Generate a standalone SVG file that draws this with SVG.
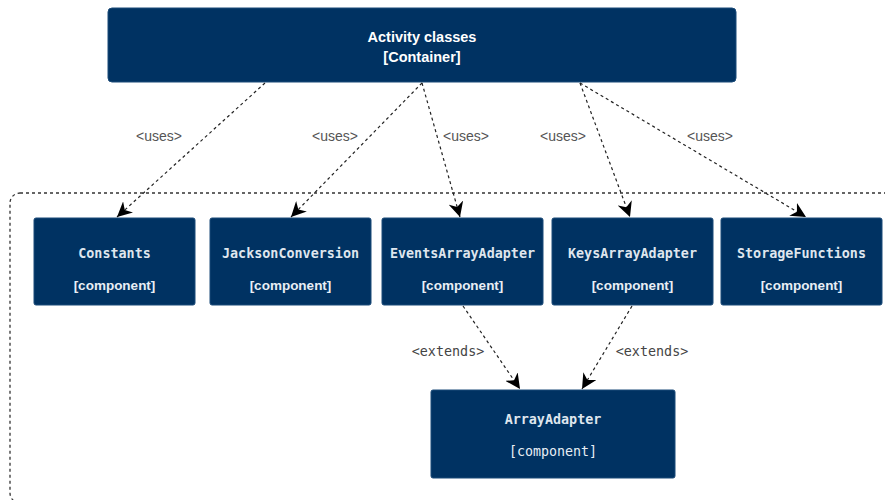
<svg xmlns="http://www.w3.org/2000/svg" width="885" height="500" viewBox="0 0 885 500">
  <style>
    .box { fill: #003262; stroke: #1a4a78; stroke-width: 1; }
    .title { font-family: "Liberation Sans", Arial, sans-serif; font-weight: bold; font-size: 14.5px; fill: #ffffff; text-anchor: middle; }
    .name { font-family: "DejaVu Sans Mono", "Liberation Mono", monospace; font-weight: bold; font-size: 13.4px; fill: #dfe6ee; text-anchor: middle; }
    .kind { font-family: "Liberation Sans", Arial, sans-serif; font-weight: bold; font-size: 13.5px; fill: #e8eef5; text-anchor: middle; }
    .kindmono { font-family: "DejaVu Sans Mono", "Liberation Mono", monospace; font-size: 13.3px; fill: #e8eef5; text-anchor: middle; }
    .edge { fill: none; stroke: #222222; stroke-width: 1.2; stroke-dasharray: 3 3; marker-end: url(#arrow); }
    .uses { font-family: "Liberation Sans", Arial, sans-serif; font-size: 14px; fill: #555555; text-anchor: middle; }
    .ext { font-family: "DejaVu Sans Mono", "Liberation Mono", monospace; font-size: 13.4px; fill: #444444; text-anchor: middle; }
    .boundary { fill: none; stroke: #333333; stroke-width: 1.3; stroke-dasharray: 3 3; }
  </style>
  <defs>
    <marker id="arrow" viewBox="0 0 10 10" refX="10" refY="5" markerWidth="15" markerHeight="15" markerUnits="userSpaceOnUse" orient="auto">
      <path d="M0,0 L10,5 L0,10 L3,5 z" fill="#000000"/>
    </marker>
  </defs>

  <rect width="885" height="500" fill="#ffffff"/>

  <!-- component boundary -->
  <rect class="boundary" x="10" y="193" width="900" height="310" rx="10"/>

  <g id="activity-classes">
    <rect class="box" x="108" y="8" width="628" height="74" rx="4"/>
    <text class="title" x="422" y="42">Activity classes</text>
    <text class="title" x="422" y="62" font-size="13px">[Container]</text>
  </g>

  <g id="constants">
    <rect class="box" x="34" y="218" width="161" height="87" rx="2"/>
    <text class="name" x="114.5" y="258">Constants</text>
    <text class="kind" x="114.5" y="290">[component]</text>
  </g>

  <g id="jackson-conversion">
    <rect class="box" x="210" y="218" width="161" height="87" rx="2"/>
    <text class="name" x="290.5" y="258">JacksonConversion</text>
    <text class="kind" x="290.5" y="290">[component]</text>
  </g>

  <g id="events-array-adapter">
    <rect class="box" x="382" y="218" width="161" height="87" rx="2"/>
    <text class="name" x="462.5" y="258">EventsArrayAdapter</text>
    <text class="kind" x="462.5" y="290">[component]</text>
  </g>

  <g id="keys-array-adapter">
    <rect class="box" x="552" y="218" width="161" height="87" rx="2"/>
    <text class="name" x="632.5" y="258">KeysArrayAdapter</text>
    <text class="kind" x="632.5" y="290">[component]</text>
  </g>

  <g id="storage-functions">
    <rect class="box" x="721" y="218" width="161" height="87" rx="2"/>
    <text class="name" x="801.5" y="258">StorageFunctions</text>
    <text class="kind" x="801.5" y="290">[component]</text>
  </g>

  <g id="array-adapter">
    <rect class="box" x="431" y="390" width="244" height="88" rx="2"/>
    <text class="name" x="553" y="424">ArrayAdapter</text>
    <text class="kindmono" x="553" y="456">[component]</text>
  </g>

  <g id="connectors">
    <path class="edge" d="M265,83 L117,217"/>
    <path class="edge" d="M422,83 L291,217"/>
    <path class="edge" d="M422,83 L460,217"/>
    <path class="edge" d="M580,83 L630,217"/>
    <path class="edge" d="M580,83 L806,217"/>
    <path class="edge" d="M463,306 L520,389"/>
    <path class="edge" d="M632,306 L582,389"/>

    <text class="uses" x="159" y="141">&lt;uses&gt;</text>
    <text class="uses" x="335" y="141">&lt;uses&gt;</text>
    <text class="uses" x="466" y="141">&lt;uses&gt;</text>
    <text class="uses" x="563" y="141">&lt;uses&gt;</text>
    <text class="uses" x="710" y="141">&lt;uses&gt;</text>
    <text class="ext" x="448" y="356">&lt;extends&gt;</text>
    <text class="ext" x="652" y="356">&lt;extends&gt;</text>
  </g>
</svg>
